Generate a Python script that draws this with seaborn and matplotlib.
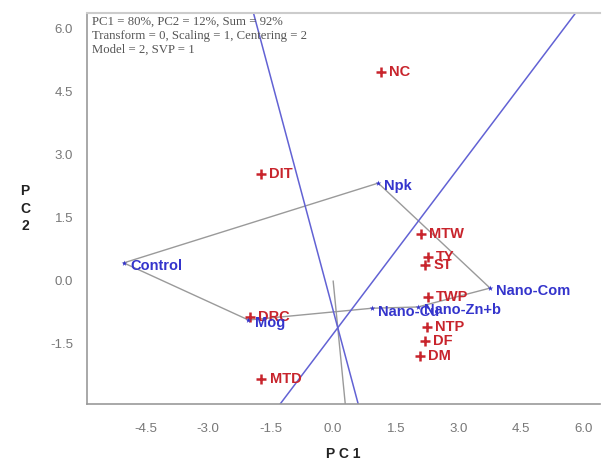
import pandas as pd
import seaborn as sns
import matplotlib.pyplot as plt

# genotypes (blue) and traits (red)
geno_names = ['Control', 'Npk', 'Nano-Com', 'Nano-Cu', 'Nano-Zn+b', 'Mog']
geno_pc1 = [-5.02, 1.08, 3.76, 0.93, 2.03, -2.03]
geno_pc2 = [0.43, 2.33, -0.17, -0.65, -0.62, -0.93]

trait_names = ['NC', 'DIT', 'MTW', 'TY', 'ST', 'TWP', 'NTP', 'DF', 'DM', 'DRC', 'MTD']
trait_pc1 = [1.15, -1.73, 2.10, 2.27, 2.20, 2.27, 2.25, 2.20, 2.08, -1.99, -1.72]
trait_pc2 = [4.98, 2.55, 1.12, 0.57, 0.38, -0.38, -1.10, -1.43, -1.79, -0.86, -2.33]

# polygon order of the hull vertices
hull_order = ['Control', 'Npk', 'Nano-Com', 'Nano-Zn+b', 'Nano-Cu', 'Mog', 'Control']

# straight lines drawn across the plot (start, end in PC units)
blue_lines = [((-1.91, 6.38), (0.60, -2.93)), ((-1.27, -2.93), (5.81, 6.38))]
grey_ray = ((0.0, 0.0), (0.29, -2.93))

xticks = [-4.5, -3.0, -1.5, 0.0, 1.5, 3.0, 4.5, 6.0]
yticks = [-1.5, 0.0, 1.5, 3.0, 4.5, 6.0]

red = '#c8242c'
blue = '#3434cc'
grey = '#9a9a9a'

geno = pd.DataFrame({'name': geno_names, 'PC1': geno_pc1, 'PC2': geno_pc2})
traits = pd.DataFrame({'name': trait_names, 'PC1': trait_pc1, 'PC2': trait_pc2})
hull = geno.set_index('name').loc[hull_order].reset_index()

sns.set_style('white')
fig = plt.figure(figsize=(6.02, 4.65), dpi=100)
ax = fig.add_axes([0.1445, 0.1312, 0.8525, 0.8408])

ax.plot(hull['PC1'], hull['PC2'], color=grey, lw=1.0, zorder=1)
ax.plot([grey_ray[0][0], grey_ray[1][0]], [grey_ray[0][1], grey_ray[1][1]],
        color=grey, lw=1.0, zorder=1)
for (x0, y0), (x1, y1) in blue_lines:
    ax.plot([x0, x1], [y0, y1], color='#6262d4', lw=1.1, zorder=1)

sns.scatterplot(data=traits, x='PC1', y='PC2', marker='+', s=45, linewidth=1.8,
                color=red, ax=ax, zorder=3)
sns.scatterplot(data=geno, x='PC1', y='PC2', marker='*', s=18, linewidth=0,
                color=blue, ax=ax, zorder=3)

for _, r in traits.iterrows():
    ax.text(r['PC1'] + 0.2, r['PC2'], r['name'], color=red, fontsize=10.5,
            fontweight='bold', family='Liberation Sans', va='center', ha='left', zorder=4)
for _, r in geno.iterrows():
    ax.text(r['PC1'] + 0.15, r['PC2'] - 0.08, r['name'], color=blue, fontsize=10.5,
            fontweight='bold', family='Liberation Sans', va='center', ha='left', zorder=4)

ax.text(0.01, 0.993,
        'PC1 = 80%, PC2 = 12%, Sum = 92%\nTransform = 0, Scaling = 1, Centering = 2\nModel = 2, SVP = 1',
        transform=ax.transAxes, va='top', ha='left', family='Liberation Serif',
        fontsize=9.2, color='#555555', linespacing=1.2)

ax.set_xlim(-5.9, 6.4)
ax.set_ylim(-2.93, 6.38)
ax.set_xticks(xticks)
ax.set_yticks(yticks)
ax.set_xticklabels([f'{v:.1f}' for v in xticks], family='Liberation Sans', fontsize=9.5, color='#777777')
ax.set_yticklabels([f'{v:.1f}' for v in yticks], family='Liberation Sans', fontsize=9.5, color='#777777')
ax.tick_params(axis='both', direction='out', length=6, width=1, color='#999999')
ax.tick_params(axis='x', pad=8)
ax.tick_params(axis='y', pad=4)

ax.set_xlabel('P C 1', fontsize=10, fontweight='bold', family='Liberation Sans', color='#222222', labelpad=8)
ax.set_ylabel('P\nC\n2', fontsize=10, fontweight='bold', family='Liberation Sans', color='#222222',
              rotation=0, va='center', linespacing=1.3, labelpad=18)

for side in ['left', 'bottom']:
    ax.spines[side].set_color('#999999')
    ax.spines[side].set_linewidth(1.2)
ax.spines['top'].set_color('#cccccc')
ax.spines['top'].set_linewidth(1.5)
ax.spines['right'].set_visible(False)

fig.savefig('out.png', dpi=100)
